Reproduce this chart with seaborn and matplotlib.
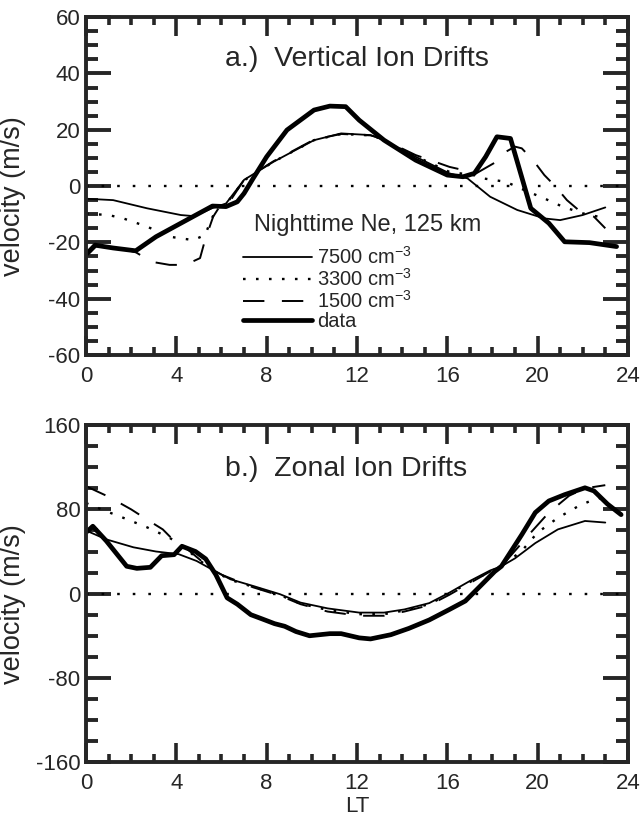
import matplotlib
matplotlib.use("Agg")
import matplotlib.pyplot as plt
from matplotlib.ticker import MultipleLocator
import seaborn as sns

# ---- panel a: vertical ion drifts (m/s) vs local time ----
lt_a_data = [0.1, 0.4, 1.2, 2.2, 3.1, 4.2, 5.6, 6.2, 6.7, 7.0, 7.4, 8.0, 8.9, 10.1, 10.8, 11.5,
             12.1, 13.2, 14.6, 16.0, 16.7, 17.2, 17.7, 18.2, 18.8, 19.7, 20.5, 21.2, 22.3, 23.5]
vz_data = [-23.5, -21, -22, -23, -18, -13.2, -7.1, -7.3, -5.6, -2.6, 2.7, 10.4, 19.9, 27, 28.4, 28.2,
           23.4, 16.3, 9.2, 3.9, 3.3, 4.5, 10.4, 17.5, 16.9, -7.9, -13.2, -19.8, -20.1, -21.5]

lt_a_7500 = [0, 1.2, 2.7, 4.2, 4.8, 5.6, 6.2, 7.0, 8.3, 10.1, 11.3, 12.6, 13.0, 14.6, 16.1, 16.9,
             17.9, 19.1, 20.3, 21.0, 22.0, 23.0]
vz_7500 = [-4.5, -5, -7.9, -10.3, -10.7, -7.8, -6.2, 2.2, 8.6, 16.3, 18.7, 18.1, 16.9, 10.4, 4.5, 2.7,
           -3.8, -8.5, -11.5, -12.1, -10.3, -7.6]

lt_a_3300 = [0, 1.0, 1.65, 2.7, 3.7, 4.75, 5.27, 5.57, 5.8, 6.2, 7.0, 8.3, 10.1, 11.3, 12.6, 13.0,
             14.6, 16.1, 17.15, 17.6, 18.6, 19.4, 20.3, 21.1, 22.0, 22.7]
vz_3300 = [-9.8, -10.3, -11.5, -14.4, -18, -19.2, -17.4, -11.5, -7.9, -6.4, 2.0, 8.6, 16.3, 18.5, 18,
           17, 10.6, 5, 3.9, 2.7, 1.5, -1.4, -4.4, -7.3, -9.7, -10.9]

lt_a_1500 = [0, 0.5, 1.2, 2.2, 2.9, 3.7, 4.4, 5.05, 5.27, 5.63, 5.9, 6.3, 7.0, 8.3, 10.1, 11.3, 12.6,
             13.0, 14.6, 15.5, 16.1, 16.7, 17.3, 18.3, 18.6, 19.0, 19.3, 19.8, 20.3, 20.8, 21.3,
             21.9, 22.5, 23.0]
vz_1500 = [-25, -21, -21.5, -23.5, -26.9, -28, -28, -25.6, -19.2, -10.9, -7.5, -6.3, 2.2, 8.8, 16.5,
           18.5, 18, 17.2, 11, 8.5, 6.8, 5.7, 4.6, 9.2, 12.2, 14, 13.4, 9.2, 3.9, -0.2, -5, -9.1,
           -10.9, -15]

# ---- panel b: zonal ion drifts (m/s) vs local time ----
lt_b_data = [0.05, 0.3, 0.9, 1.8, 2.25, 2.85, 3.35, 3.9, 4.25, 4.85, 5.3, 5.75, 6.25, 6.7, 7.3, 7.8,
             8.35, 8.8, 9.3, 9.9, 10.8, 11.3, 12.1, 12.6, 13.5, 14.3, 15.2, 16.1, 16.8, 17.5, 18.1,
             18.4, 19.3, 19.9, 20.5, 21.2, 22.1, 22.5, 23.1, 23.7]
vy_data = [59, 64, 50, 26, 24, 25, 36, 37, 45, 40, 33, 18, -4, -10, -20, -24, -28.5, -31, -36, -40,
           -38, -38, -42, -43, -39, -33, -25, -15, -7, 8, 21, 26, 56, 77, 88, 94, 100.5, 97.5, 85, 75]

lt_b_7500 = [0.1, 0.9, 2.1, 3.1, 4.1, 4.9, 5.7, 6.4, 7.4, 8.6, 9.5, 10.7, 12.1, 13.2, 14.1, 15.2,
             16.1, 17.0, 17.9, 18.4, 19.0, 19.9, 20.9, 22.1, 23.0]
vy_7500 = [59, 51.5, 44, 40, 37.5, 31, 21.5, 13.6, 7.3, -0.6, -8.5, -14, -18, -18, -15, -9, 1, 12,
           22, 26, 33.5, 48, 61, 69, 67.5]

lt_b_3300 = [0, 0.8, 1.65, 2.7, 3.7, 4.3, 5.0, 5.7, 6.4, 7.4, 8.6, 9.5, 10.7, 12.1, 13.2, 14.1, 15.2,
             16.1, 17.0, 17.9, 18.4, 19.3, 20.0, 20.9, 21.8, 22.4, 23.0]
vy_3300 = [86, 79, 72, 63, 53, 45, 32, 21, 13, 6.5, -1.5, -9.5, -15.5, -19.5, -19.5, -16, -10, 0, 11,
           21, 26, 40.5, 58, 72, 83, 88.6, 92]

lt_b_1500 = [0, 1, 2, 2.8, 3.4, 4.0, 4.5, 5.0, 5.5, 6.0, 7.4, 8.6, 9.5, 10.7, 12.1, 13.2, 14.1, 15.2,
             16.1, 17.0, 17.9, 18.4, 19.3, 19.7, 20.5, 21.4, 22.1, 23.0]
vy_1500 = [102, 92, 80, 69, 61, 48, 42, 33, 24, 18, 6, -2, -10, -17, -21, -21, -17, -11, -1, 10, 21,
           26, 48, 58, 77, 93, 100, 103]

labels = ['7500 cm$^{-3}$', '3300 cm$^{-3}$', '1500 cm$^{-3}$', 'data']

sns.set_style("ticks")
plt.rcParams['font.family'] = ['Liberation Sans', 'DejaVu Sans']
plt.rcParams['mathtext.default'] = 'regular'
plt.rcParams['axes.unicode_minus'] = False

styles = [dict(color='k', linewidth=1.3, linestyle='-'),
          dict(color='k', linewidth=1.7, linestyle=(0, (1.1, 4.4))),
          dict(color='k', linewidth=1.4, linestyle=(0, (11, 9))),
          dict(color='k', linewidth=3.4, linestyle='-')]

fig = plt.figure(figsize=(6.42, 8.16), dpi=100)
ax1 = fig.add_axes([0.134, 0.565, 0.844, 0.414])
ax2 = fig.add_axes([0.134, 0.066, 0.844, 0.413])

series_a = [(lt_a_7500, vz_7500), (lt_a_3300, vz_3300), (lt_a_1500, vz_1500), (lt_a_data, vz_data)]
series_b = [(lt_b_7500, vy_7500), (lt_b_3300, vy_3300), (lt_b_1500, vy_1500), (lt_b_data, vy_data)]

for ax, series in [(ax1, series_a), (ax2, series_b)]:
    ax.axhline(0, color='k', linewidth=1.7, linestyle=(0, (1.1, 5.5)), zorder=1)
    for (x, y), st, lab in zip(series, styles, labels):
        sns.lineplot(x=x, y=y, ax=ax, sort=False, estimator=None, label=lab, **st)
    ax.set_xlim(0, 24)
    ax.xaxis.set_major_locator(MultipleLocator(4))
    ax.xaxis.set_minor_locator(MultipleLocator(1))
    ax.tick_params(axis='y', which='major', direction='in', length=18, width=2.8,
                   left=True, right=True, labelsize=16, pad=4)
    ax.tick_params(axis='y', which='minor', direction='in', length=8.5, width=2.8,
                   left=True, right=True)
    ax.tick_params(axis='x', which='major', direction='in', length=13.5, width=2.6,
                   top=True, bottom=True, labelsize=16, pad=8)
    ax.tick_params(axis='x', which='minor', direction='in', length=6, width=2.6,
                   top=True, bottom=True)
    for sp in ax.spines.values():
        sp.set_visible(True)
        sp.set_linewidth(2.8)
    ax.set_ylabel('velocity (m/s)', fontsize=19.5)
    ax.yaxis.set_label_coords(-0.11, 0.47)

ax1.set_ylim(-60, 60)
ax1.yaxis.set_major_locator(MultipleLocator(20))
ax1.yaxis.set_minor_locator(MultipleLocator(5))
ax2.set_ylim(-160, 160)
ax2.yaxis.set_major_locator(MultipleLocator(80))
ax2.yaxis.set_minor_locator(MultipleLocator(20))

ax1.text(0.5, 0.875, 'a.)  Vertical Ion Drifts', transform=ax1.transAxes,
         ha='center', va='center', fontsize=20.5)
ax2.text(0.48, 0.87, 'b.)  Zonal Ion Drifts', transform=ax2.transAxes,
         ha='center', va='center', fontsize=20.5)

ax2.set_xlabel('LT', fontsize=16, labelpad=1)
ax2.get_legend().remove()

# legend: heading as plain text, entries below it
ax1.text(0.31, 0.385, 'Nighttime Ne, 125 km', transform=ax1.transAxes,
         ha='left', va='center', fontsize=17)
h, l = ax1.get_legend_handles_labels()
ax1.legend(h, l, loc='upper left', bbox_to_anchor=(0.29, 0.322),
           frameon=False, fontsize=14.5, handlelength=3.4,
           handletextpad=0.25, labelspacing=0, borderpad=0, borderaxespad=0)

fig.savefig('out.png', dpi=100)
